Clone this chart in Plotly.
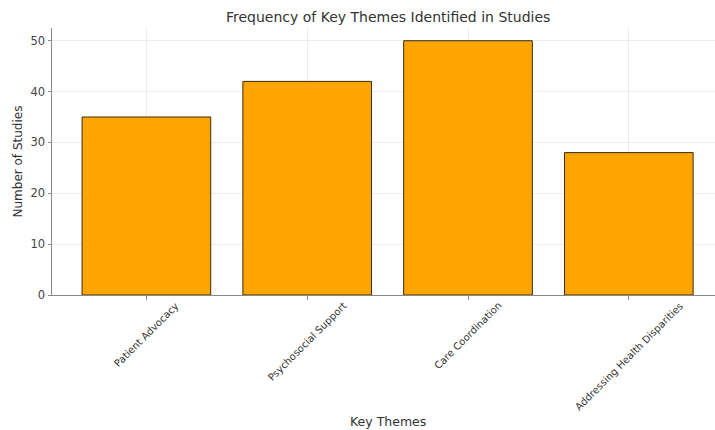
import plotly.graph_objects as go

categories = ["Patient Advocacy", "Psychosocial Support", "Care Coordination", "Addressing Health Disparities"]
values = [35, 42, 50, 28]
y_ticks = [0, 10, 20, 30, 40, 50]

title_text = "Frequency of Key Themes Identified in Studies"
x_title = "Key Themes"
y_title = "Number of Studies"

FONT = "DejaVu Sans"
xpos = list(range(len(categories)))

fig = go.Figure()
fig.add_trace(go.Bar(
    x=xpos, y=values, width=0.8,
    marker=dict(color="#FFA500", line=dict(color="#3a2a10", width=1)),
))

annotations = []
for i, c in zip(xpos, categories):
    annotations.append(dict(
        x=i, y=-0.008, xref="x", yref="paper", text=c, showarrow=False,
        textangle=-45, xanchor="center", yanchor="top",
        font=dict(family=FONT, size=10, color="#333")))
annotations.append(dict(x=0.507, y=-0.472, xref="paper", yref="paper", text=x_title,
                        showarrow=False, xanchor="center", yanchor="middle",
                        font=dict(family=FONT, size=12.5, color="#333")))
annotations.append(dict(x=-0.0513, y=0.5, xref="paper", yref="paper", text=y_title,
                        showarrow=False, textangle=-90, xanchor="center", yanchor="middle",
                        font=dict(family=FONT, size=12, color="#333")))

fig.update_layout(
    width=715, height=430,
    margin=dict(l=52, r=0, t=28, b=135),
    paper_bgcolor="white", plot_bgcolor="white",
    showlegend=False,
    title=dict(text=title_text, x=0.507, xref="paper", xanchor="center",
               y=1 - 17 / 430, yref="container", yanchor="middle",
               font=dict(family=FONT, size=14, color="#333")),
    annotations=annotations,
    xaxis=dict(range=[-0.587, 3.536], tickvals=xpos, showticklabels=False,
               ticks="outside", ticklen=3.5, tickcolor="#888",
               showgrid=True, gridcolor="#ececec", gridwidth=1,
               showline=True, linecolor="#888", linewidth=1, zeroline=False),
    yaxis=dict(range=[0, 52.5], tickvals=y_ticks, ticks="outside", ticklen=3.5,
               tickcolor="#888", tickfont=dict(family=FONT, size=11.5, color="#444"),
               showgrid=True, gridcolor="#ececec", gridwidth=1,
               showline=True, linecolor="#888", linewidth=1, zeroline=False),
)

fig.write_html("out.html")
